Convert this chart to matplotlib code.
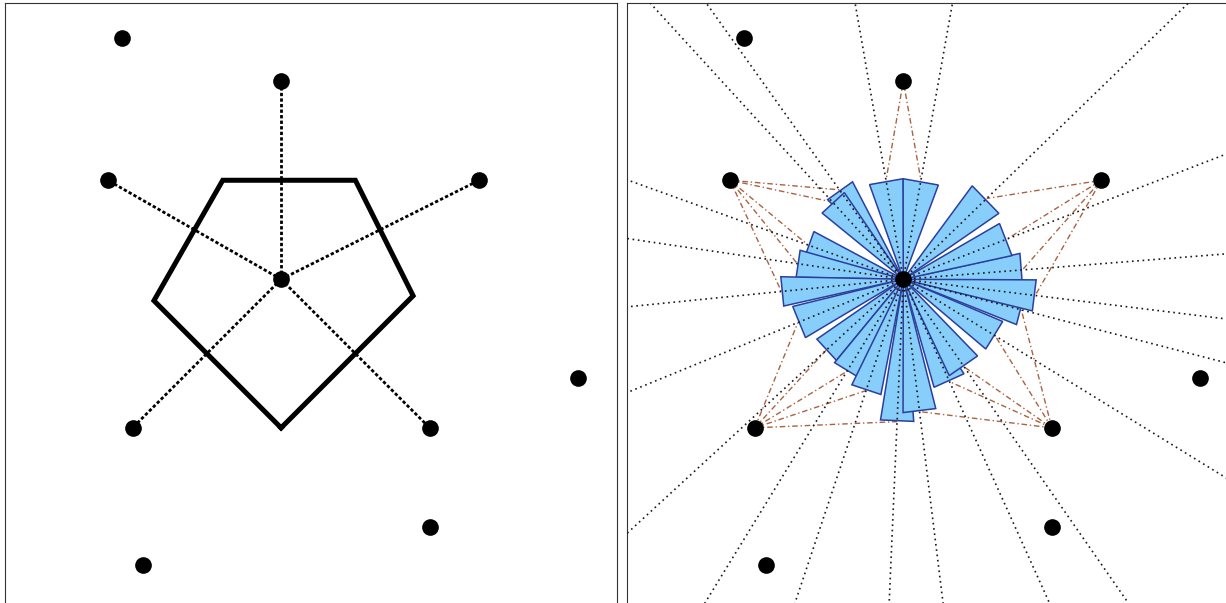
import numpy as np
import matplotlib
matplotlib.use("Agg")
import matplotlib.pyplot as plt
from matplotlib.patches import Polygon

# ------------------------------------------------------------
# datos: puntos de la nube (el punto 4 es el central)
# ------------------------------------------------------------
px = [-1.61, 0.0, -1.75, 2.0, 0.0, 3.0, -1.5, 1.5, 1.5, -1.39]
py = [2.44, 2.0, 1.0, 1.0, 0.0, -1.0, -1.5, -1.5, -2.5, -2.89]
center = 4
neighbors = [3, 1, 2, 6, 7]   # vecinos de Voronoi del punto central

# direcciones muestreadas (grados) y semiancho de cada cuña
ray_deg = [4.5, 21.2, 44.1, 79.9, 99.9, 125.5, 132.5, 160.2, 171.6, 185.7, 202.3,
           222.6, 238.5, 251.5, 267.5, 277.0, 294.3, 304.8, 328.4, 345.5, 353.0]
half_w = [8.0, 8.9, 9.5, 10.3, 9.7, 8.0, 8.3, 8.3, 7.3, 6.9, 8.5,
          7.9, 8.0, 7.5, 6.7, 7.1, 8.4, 9.3, 8.6, 7.3, 6.75]

xlim = (-2.79, 3.39)
ylim = (-3.39, 2.79)

pts = np.column_stack([px, py])
c = pts[center]
rel = pts - c


def ray_hit(theta):
    # distancia hasta la frontera de la celda de Voronoi y vecino dueño
    d = np.array([np.cos(theta), np.sin(theta)])
    best_t, best_j = np.inf, -1
    for j, p in enumerate(rel):
        if j == center:
            continue
        pd_ = p @ d
        if pd_ <= 0:
            continue
        t = (p @ p) / (2 * pd_)
        if t < best_t:
            best_t, best_j = t, j
    return best_t, best_j


# celda de Voronoi: intersección de bisectrices consecutivas
nb = sorted(neighbors, key=lambda j: np.arctan2(rel[j, 1], rel[j, 0]))
cell = []
for k in range(len(nb)):
    a = rel[nb[k]]
    b = rel[nb[(k + 1) % len(nb)]]
    A = np.array([a, b])
    rhs = np.array([a @ a / 2, b @ b / 2])
    cell.append(np.linalg.solve(A, rhs) + c)
cell = np.array(cell)

fig = plt.figure(figsize=(12.26, 6.03), dpi=100)
W, H = 1226, 603
ax1 = fig.add_axes([4.8 / W, (603 - 615) / H, 612 / W, 612 / H])
ax2 = fig.add_axes([627 / W, (603 - 615) / H, 612 / W, 612 / H])

for ax in (ax1, ax2):
    ax.set_xlim(*xlim)
    ax.set_ylim(*ylim)
    ax.set_xticks([])
    ax.set_yticks([])
    for s in ax.spines.values():
        s.set_linewidth(0.8)
        s.set_color("#333333")

# ------------------------------------------------------------
# panel izquierdo: celda de Voronoi y vecinos
# ------------------------------------------------------------
for j in neighbors:
    ax1.plot([c[0], px[j]], [c[1], py[j]], color="black", lw=2.0,
             linestyle=(0, (1.2, 0.8)), zorder=2)
closed = np.vstack([cell, cell[:1]])
ax1.plot(closed[:, 0], closed[:, 1], color="black", lw=3.6,
         solid_joinstyle="miter", zorder=3)
ax1.plot(px, py, "o", color="black", ms=12, mew=0, zorder=5)

# ------------------------------------------------------------
# panel derecho: rosa de direcciones
# ------------------------------------------------------------
for th_deg, hw in zip(ray_deg, half_w):
    th = np.radians(th_deg)
    L, j = ray_hit(th)
    hx, hy = c[0] + L * np.cos(th), c[1] + L * np.sin(th)

    # línea desde el vecino dueño al punto de corte
    ax2.plot([px[j], hx], [py[j], hy], color="#a0522d", lw=1.0,
             linestyle=(0, (4, 2, 1, 2)), alpha=0.9, zorder=1)

    # cuña
    t1, t2 = th - np.radians(hw), th + np.radians(hw)
    verts = [c, (c[0] + L * np.cos(t1), c[1] + L * np.sin(t1)),
             (c[0] + L * np.cos(t2), c[1] + L * np.sin(t2))]
    ax2.add_patch(Polygon(verts, closed=True, facecolor="#87cefa",
                          edgecolor="#2b3f9e", lw=1.1, zorder=2))

    # rayo punteado hasta el borde
    ax2.plot([c[0], c[0] + 10 * np.cos(th)], [c[1], c[1] + 10 * np.sin(th)],
             color="#1a1a1a", lw=1.2, linestyle=(0, (1, 2.2)), zorder=3)

ax2.plot(px, py, "o", color="black", ms=12, mew=0, zorder=5)

fig.savefig("out.png", dpi=100)
